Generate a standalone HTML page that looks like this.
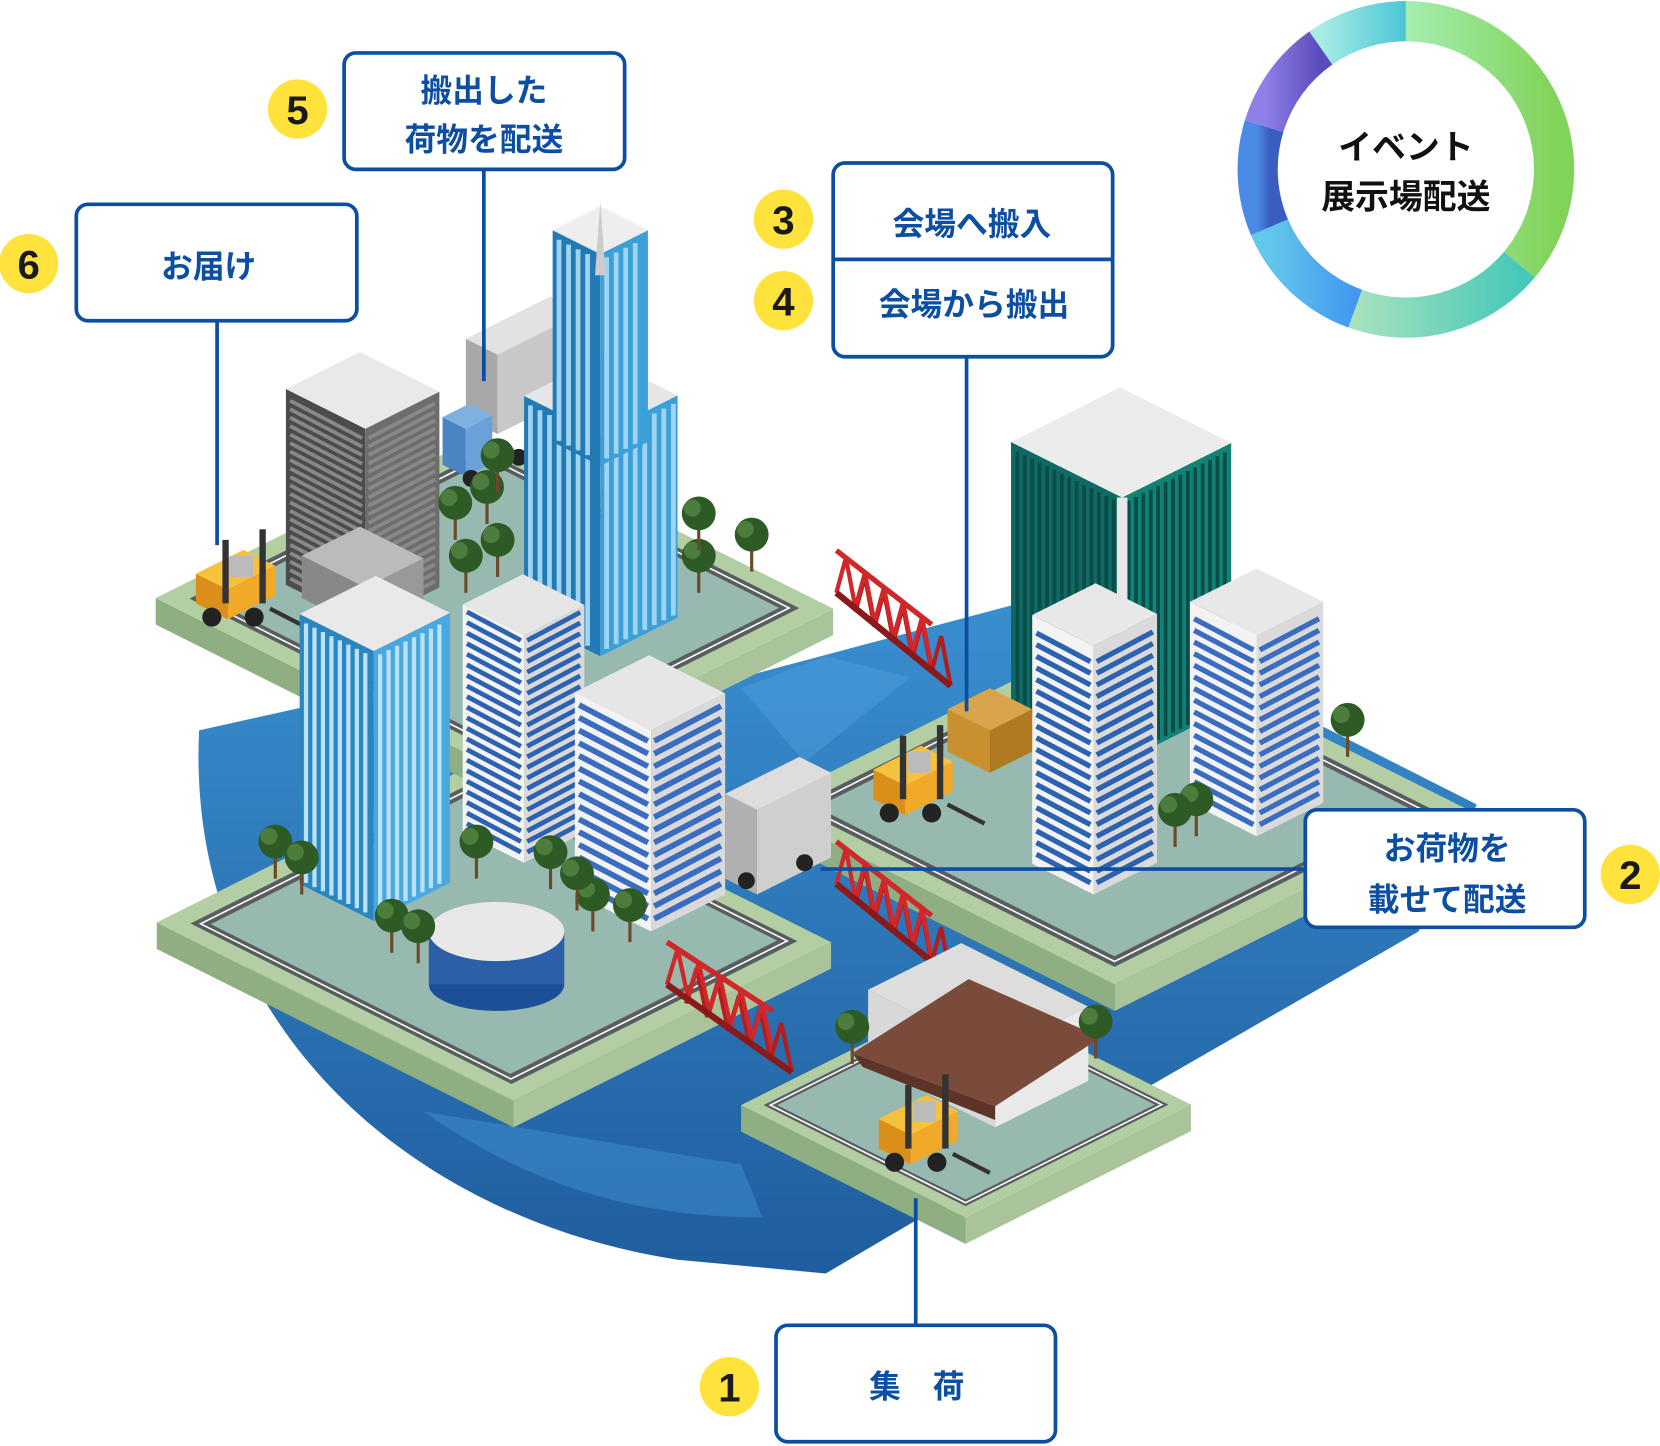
<!DOCTYPE html>
<html><head><meta charset="utf-8">
<style>
html,body{margin:0;padding:0;background:#fff;}
svg{display:block;}
.lb{font-family:"Liberation Sans","Noto Sans CJK JP",sans-serif;font-weight:bold;fill:#0c4ea2;font-size:30px;text-anchor:middle;}
.num{font-family:"Liberation Sans",sans-serif;font-weight:bold;fill:#1a1a1a;font-size:38px;text-anchor:middle;}
.rt{font-family:"Liberation Sans","Noto Sans CJK JP",sans-serif;font-weight:bold;fill:#111;font-size:32px;text-anchor:middle;}
</style></head>
<body>
<svg id="s" width="1660" height="1446" viewBox="0 0 1568 1366" xmlns="http://www.w3.org/2000/svg">
<defs>
<linearGradient id="wg" x1="0" y1="0" x2="0" y2="1"><stop offset="0" stop-color="#3a8fd0"/><stop offset="1" stop-color="#1f5d9e"/></linearGradient>
<linearGradient id="g1" x1="0" x2="1"><stop offset="0" stop-color="#a4eeb0"/><stop offset="1" stop-color="#82d35a"/></linearGradient>
<linearGradient id="g2" x1="0" x2="1"><stop offset="0" stop-color="#a6e2bf"/><stop offset="1" stop-color="#48c8b8"/></linearGradient>
<linearGradient id="g3" x1="0" x2="1"><stop offset="0" stop-color="#63c6ec"/><stop offset="1" stop-color="#4198ee"/></linearGradient>
<linearGradient id="g4" x1="0" x2="1"><stop offset="0" stop-color="#4a8ae6"/><stop offset="1" stop-color="#3a5ec0"/></linearGradient>
<linearGradient id="g5" x1="0" x2="1"><stop offset="0" stop-color="#8e80e6"/><stop offset="1" stop-color="#5b4cbc"/></linearGradient>
<linearGradient id="g6" x1="0" x2="1"><stop offset="0" stop-color="#a8ece6"/><stop offset="1" stop-color="#4ac6d6"/></linearGradient>
</defs>
<path d="M188,690 C175,960 380,1150 640,1190 L780,1203 L870,1150 L1340,880 L1395,760 L1000,560 L700,640 L300,665 Z" fill="url(#wg)"/>
<path d="M700,650 L780,620 L860,640 L760,720 Z" fill="#4a9ad8" opacity="0.6"/>
<path d="M400,1050 C500,1120 600,1150 720,1150 L700,1100 Z" fill="#3f8fcf" opacity="0.5"/>
<g id="ill"></g>
<g id="ring"></g>
<text class="rt" x="1328" y="150">イベント</text>
<text class="rt" x="1328" y="197">展示場配送</text>

<g stroke="#0c4ea2" stroke-width="3.5" fill="none">
<line x1="457" y1="160" x2="457" y2="360"/>
<line x1="205" y1="303" x2="205" y2="515"/>
<line x1="913" y1="337" x2="913" y2="672"/>
<line x1="775" y1="821" x2="1233" y2="821"/>
<line x1="865" y1="1132" x2="865" y2="1252"/>
</g>
<g stroke="#0c4ea2" stroke-width="3.5" fill="#fff">
<rect x="325" y="50" width="265" height="110" rx="11"/>
<rect x="72" y="193" width="265" height="110" rx="11"/>
<rect x="787" y="154" width="264" height="183" rx="11"/>
<rect x="1233" y="765" width="264" height="111" rx="11"/>
<rect x="733" y="1252" width="264" height="110" rx="11"/>
</g>
<line x1="787" y1="245" x2="1051" y2="245" stroke="#0c4ea2" stroke-width="3.5"/>
<text class="lb" x="457" y="96">搬出した</text>
<text class="lb" x="457" y="142">荷物を配送</text>
<text class="lb" x="197" y="262">お届け</text>
<text class="lb" x="918" y="222">会場へ搬入</text>
<text class="lb" x="920" y="298">会場から搬出</text>
<text class="lb" x="1367" y="812">お荷物を</text>
<text class="lb" x="1367" y="860">載せて配送</text>
<text class="lb" x="866" y="1320">集　荷</text>
<g fill="#ffe23c">
<circle cx="281" cy="103" r="28"/><circle cx="27" cy="249" r="28"/>
<circle cx="740" cy="207" r="28"/><circle cx="740" cy="284" r="28"/>
<circle cx="1540" cy="826" r="28"/><circle cx="689" cy="1310" r="28"/>
</g>
<text class="num" x="281" y="117">5</text><text class="num" x="27" y="263">6</text>
<text class="num" x="740" y="221">3</text><text class="num" x="740" y="298">4</text>
<text class="num" x="1540" y="840">2</text><text class="num" x="689" y="1324">1</text>
</svg>
<script>
var NS="http://www.w3.org/2000/svg",G=document.getElementById("ill");
function el(t,a,p){var e=document.createElementNS(NS,t);for(var k in a)e.setAttribute(k,a[k]);(p||G).appendChild(e);return e;}
function poly(pts,f,extra){var a={points:pts.map(function(p){return p[0]+","+p[1]}).join(" "),fill:f};for(var k in extra)a[k]=extra[k];return el("polygon",a);}
function box(x,y,wl,wr,h,ct,cl,cr){
 var L=[x-wl,y-wl/2],R=[x+wr,y-wr/2];
 poly([L,[x,y],[x,y-h],[L[0],L[1]-h]],cl);
 poly([[x,y],R,[R[0],R[1]-h],[x,y-h]],cr);
 var top=[[x,y-h],[L[0],L[1]-h],[x-wl+wr,y-(wl+wr)/2-h],[R[0],R[1]-h]];
 poly(top,ct);return top;}
function inset(p,k){var cx=0,cy=0;p.forEach(function(q){cx+=q[0];cy+=q[1]});cx/=4;cy/=4;return p.map(function(q){return[cx+(q[0]-cx)*k,cy+(q[1]-cy)*k]});}
function island(x,y,wl,wr){var t=box(x,y,wl,wr,25,"#b3cea3","#8fae82","#a9c49a");
 poly(inset(t,0.9),"#5a5d60");poly(inset(t,0.84),"#98b9b0");
 el("polygon",{points:inset(t,0.87).map(function(p){return p.join(",")}).join(" "),fill:"none",stroke:"#fff","stroke-width":1.5});}
function stripes(x,y,wl,wr,h,step,col){
 for(var d=step;d<h-4;d+=step){
  el("line",{x1:x-wl+4,y1:y-wl/2-d+2,x2:x-3,y2:y-d,stroke:col,"stroke-width":step*0.45});
  el("line",{x1:x+3,y1:y-d,x2:x+wr-4,y2:y-wr/2-d+2,stroke:col,"stroke-width":step*0.45});}}
function vstripes(x,y,wl,wr,h,step,col){
 for(var d=6;d<wl-3;d+=step)el("line",{x1:x-wl+d,y1:y-(wl-d)/2-4,x2:x-wl+d,y2:y-(wl-d)/2-h+6,stroke:col,"stroke-width":step*0.5});
 for(var d=6;d<wr-3;d+=step)el("line",{x1:x+d,y1:y-d/2-4,x2:x+d,y2:y-d/2-h+6,stroke:col,"stroke-width":step*0.5});}
function tree(x,y){el("line",{x1:x,y1:y,x2:x,y2:y-25,stroke:"#6b4a2a","stroke-width":3});
 el("circle",{cx:x,cy:y-35,r:16,fill:"#2e5a26"});el("circle",{cx:x-6,cy:y-40,r:8,fill:"#4d7d3c"});}
function bridge(x1,y1,x2,y2){var dx=x2-x1,dy=y2-y1,n=5;
 var pts=[];for(var i=0;i<=n;i++){pts.push([x1+dx*i/n,y1+dy*i/n]);}
 for(var i=0;i<n;i++){var a=pts[i],b=pts[i+1];
  el("polyline",{points:a[0]+","+a[1]+" "+(a[0]+b[0])/2+","+((a[1]+b[1])/2-40)+" "+b[0]+","+b[1],fill:"none",stroke:"#d0272a","stroke-width":4});
  el("polyline",{points:(a[0]+18)+","+(a[1]+18)+" "+((a[0]+b[0])/2+18)+","+((a[1]+b[1])/2-22)+" "+(b[0]+18)+","+(b[1]+18),fill:"none",stroke:"#b01e20","stroke-width":4});}
 el("line",{x1:x1,y1:y1-40,x2:x2,y2:y2-40,stroke:"#d0272a","stroke-width":5});
 el("line",{x1:x1,y1:y1,x2:x2+18,y2:y2+18,stroke:"#8a1a1a","stroke-width":6});}
function fork(x,y){box(x,y,30,45,28,"#f6c23e","#d98f1a","#f0a928");
 el("rect",{x:x-5,y:y-75,width:6,height:60,fill:"#333"});el("rect",{x:x+30,y:y-85,width:6,height:70,fill:"#333"});
 el("rect",{x:x+2,y:y-60,width:22,height:20,fill:"#bbb"});
 el("circle",{cx:x-15,cy:y-2,r:9,fill:"#222"});el("circle",{cx:x+25,cy:y-2,r:9,fill:"#222"});
 el("line",{x1:x+40,y1:y-10,x2:x+75,y2:y+8,stroke:"#333","stroke-width":4});}

island(485,1065,337,300);
island(477,755,330,310);
island(1053,955,335,332);
island(912,1175,212,213);
bridge(790,560,880,630);bridge(790,835,880,905);bridge(630,930,730,995);
fork(215,585);
box(345,590,75,70,185,"#e9e9e9","#4b4b4b","#6d6d6d");stripes(345,590,75,70,185,8,"#888");
box(345,595,60,55,40,"#bbb","#888","#999");
// truck top (trailer)
box(470,410,30,80,75,"#e2e2e2","#a8a8a8","#c8c8c8");box(440,450,22,25,45,"#7fb1e0","#4b84c2","#6ba0d8");
el("circle",{cx:445,cy:452,r:8,fill:"#222"});el("circle",{cx:490,cy:432,r:8,fill:"#222"});
box(567,620,72,73,210,"#e6e6e6","#237ab2","#3ba0d8");vstripes(567,620,72,73,210,9,"#9fd3f2");
box(567,440,45,45,200,"#eee","#237ab2","#3ba0d8");vstripes(567,440,45,45,200,9,"#9fd3f2");
el("polygon",{points:"562,260 567,190 572,260",fill:"#ccc"});
[[440,560],[470,545],[430,510],[460,495],[470,465],[660,560],[710,540],[660,520]].forEach(function(p){tree(p[0],p[1]);});
box(353,870,70,72,255,"#e9e9e9","#2b86c0","#4aa8e0");vstripes(353,870,70,72,255,8,"#b9e2f8");
box(495,815,58,57,215,"#e6e6e6","#f3f3f3","#d9d9d9");stripes(495,815,58,57,215,10,"#2d62b0");
box(615,880,72,70,190,"#e6e6e6","#f3f3f3","#d9d9d9");stripes(615,880,72,70,190,12,"#3a6dc0");
el("ellipse",{cx:469,cy:930,rx:64,ry:25,fill:"#1d4f98"});el("rect",{x:405,y:880,width:128,height:50,fill:"#2b5fa8"});
el("ellipse",{cx:469,cy:880,rx:64,ry:28,fill:"#e8e8e8"});
[[260,830],[285,845],[370,900],[395,910],[450,830],[520,840],[560,880],[595,890],[545,860]].forEach(function(p){tree(p[0],p[1]);});
// middle truck
box(715,845,30,70,80,"#ddd","#b0b0b0","#cfcfcf");el("circle",{cx:705,cy:832,r:8,fill:"#222"});el("circle",{cx:760,cy:815,r:8,fill:"#222"});
// right island
box(1060,720,105,103,250,"#ececec","#0e6a63","#128276");vstripes(1060,720,105,103,250,7,"#0a4d48");
el("line",{x1:1060,y1:720,x2:1060,y2:470,stroke:"#e8e8e8","stroke-width":10});
box(1033,845,58,60,235,"#e8e8e8","#f3f3f3","#dadada");stripes(1033,845,58,60,235,11,"#2d62b0");
box(1187,790,63,63,190,"#e8e8e8","#f3f3f3","#dadada");stripes(1187,790,63,63,190,11,"#3a6dc0");
box(935,730,40,40,40,"#d9a44a","#c8902e","#b07a20");
fork(855,770);
[[1130,790],[1110,800],[1273,715]].forEach(function(p){tree(p[0],p[1]);});
// warehouse
box(940,1065,120,88,70,"#ddd","#d8d8d8","#eaeaea");
poly([[805,995],[915,925],[1040,980],[940,1045]],"#7a4a3a");poly([[805,995],[940,1045],[940,1058],[815,1008]],"#5d3427");
tree(805,1005);tree(1035,1000);
fork(860,1100);
var R=document.getElementById("ring"),cx=1328,cy=160,r=140;
function arc(a1,a2,f){function pt(a){a=(a-90)*Math.PI/180;return[cx+r*Math.cos(a),cy+r*Math.sin(a)];}
 var p1=pt(a1),p2=pt(a2);el("path",{d:"M"+p1+" A"+r+","+r+" 0 "+((a2-a1)>180?1:0)+" 1 "+p2,fill:"none",stroke:"url(#"+f+")","stroke-width":38},R);}
arc(0,130,"g1");arc(130,200,"g2");arc(200,247,"g3");arc(247,287,"g4");arc(287,325,"g5");arc(325,360,"g6");
</script>
</body></html>
